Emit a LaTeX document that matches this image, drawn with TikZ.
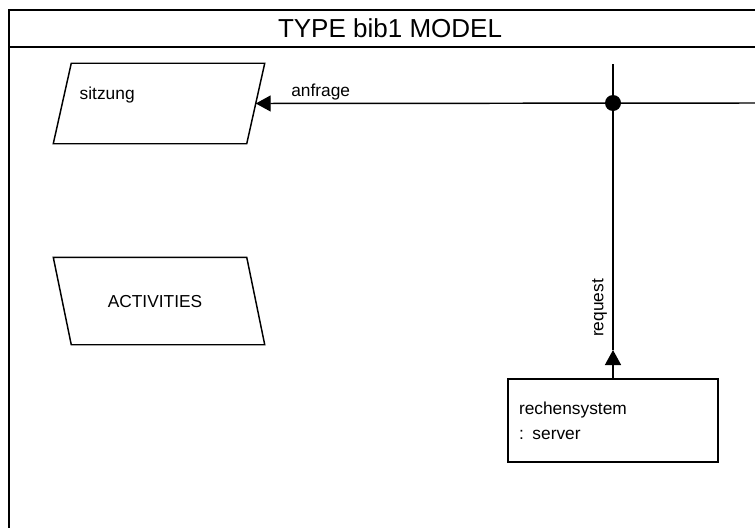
\documentclass[tikz,border=0pt]{standalone}
\usepackage{fontspec}
\setmainfont{Liberation Sans}
\usetikzlibrary{
    arrows.meta,
    positioning
}

\begin{document}
\begin{tikzpicture}[x=0.75pt, y=-0.75pt, line width=1.1pt,
                        lbl/.style={font=\fontsize{13}{19.5}\selectfont, inner sep=0pt},
                        para/.style={rectangle, minimum width=144pt, inner sep=0pt, font=\fontsize{13}{19.5}\selectfont},
                        box/.style={rectangle, draw, minimum width=157.5pt, minimum height=62.25pt,
                            align=left, text width=141pt, inner xsep=8.25pt, font=\fontsize{13}{19.5}\selectfont},
                        flow/.style={-{Triangle[length=11.25pt, width=12pt]}}]
                        \useasboundingbox (0,0) rectangle (755,528);
                        \draw[line width=1.5pt] (755,10) -- (9,10) -- (9,528);
                        \draw[line width=1.5pt] (9,47) -- (755,47);
                        \node[lbl, font=\fontsize{19.5}{23}\selectfont] (title) at (390,28) {TYPE bib1 MODEL};

                        \node[para, minimum height=59.25pt] (sitzung) at (159,103.5) {};
                        \draw ([xshift=6.75pt]sitzung.north west) -- ([xshift=6.75pt]sitzung.north east)
                            -- ([xshift=-6.75pt]sitzung.south east) -- ([xshift=-6.75pt]sitzung.south west) -- cycle;
                        \node[lbl, anchor=west] (sitzungtext) at (79,95) {sitzung};

                        \node[para, minimum height=64.5pt] (activities) at (159,301) {};
                        \draw ([xshift=-6.75pt]activities.north west) -- ([xshift=-6.75pt]activities.north east)
                            -- ([xshift=6.75pt]activities.south east) -- ([xshift=6.75pt]activities.south west) -- cycle;
                        \node[lbl] (activitiestext) at (155,302) {ACTIVITIES};

                        \node[box] (rechensystem) at (613,420.5) {rechensystem\\[-0.5pt]: server};

                        \node[circle, fill, minimum size=12pt, inner sep=0pt] (junction) at (613,103) {};
                        \coordinate (rechts) at (755,103);
                        \coordinate (oben) at (613,64);
                        \coordinate (spitze) at (613,350);

                        \draw[flow] (rechts) -- node[lbl, above=2pt, pos=0.87] {anfrage} (sitzung.east);
                        \draw[flow] (rechensystem.north) -- (spitze);
                        \draw (spitze) -- node[lbl, sloped, above=4pt, pos=0.147] {request} (oben);
                    \end{tikzpicture}
\end{document}
